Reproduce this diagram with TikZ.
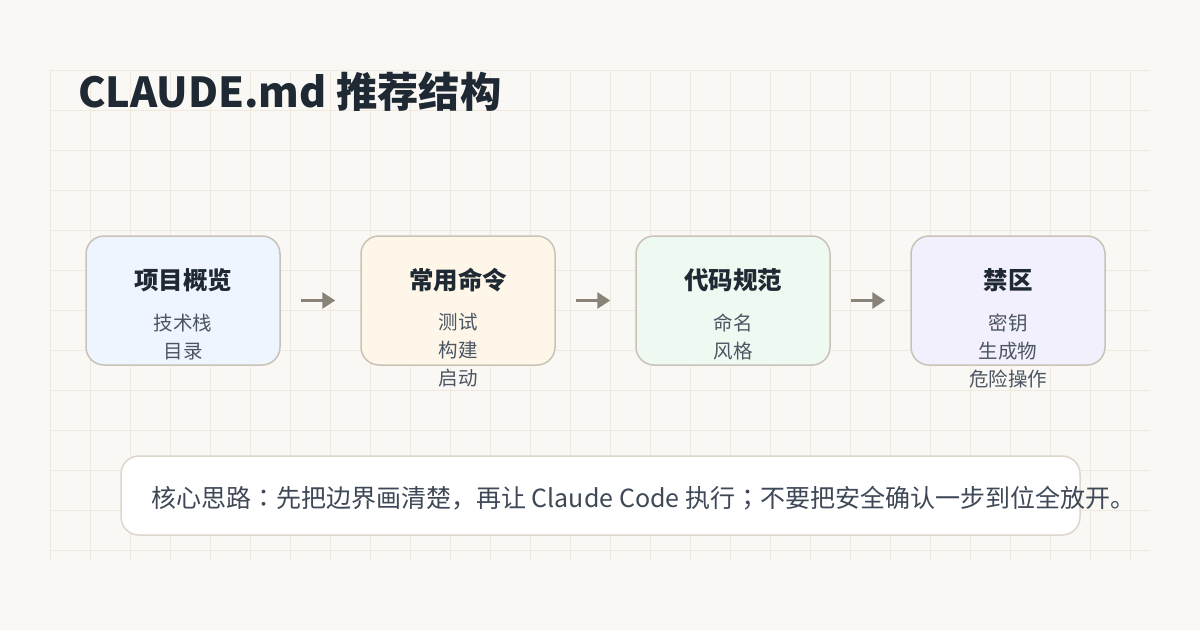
\documentclass[tikz,border=0pt]{standalone}
\usepackage{fontspec}
\setmainfont{Noto Sans CJK SC}
\newfontfamily\tcf{Noto Sans CJK TC}
\usetikzlibrary{arrows.meta}
\definecolor{bg}{HTML}{FAF8F4}
\definecolor{gridc}{HTML}{EFE9DF}
\definecolor{bordc}{HTML}{C9C2B7}
\definecolor{titlec}{HTML}{1F2933}
\definecolor{subc}{HTML}{4B5563}
\definecolor{notec}{HTML}{3E4856}
\definecolor{arrc}{HTML}{8A837A}
\definecolor{fa}{HTML}{EEF5FE}
\definecolor{fb}{HTML}{FEF7E9}
\definecolor{fc}{HTML}{EEFAF1}
\definecolor{fd}{HTML}{F3F0FD}
\definecolor{notebord}{HTML}{DDD6CA}
\tikzset{
  card/.style={draw=bordc, line width=1.5pt, rounded corners=18pt, minimum width=194pt, minimum height=129pt, inner sep=0pt},
  cardtitle/.style={font=\fontsize{24.5}{28}\selectfont\bfseries, text=titlec, inner sep=0pt},
  cardsub/.style={font=\fontsize{19.5}{28}\selectfont, text=subc, inner sep=0pt, align=center},
  flow/.style={draw=arrc, line width=3pt, -{Triangle[length=13pt,width=16pt]}, shorten <=20pt, shorten >=25pt},
}
\begin{document}
\begin{tikzpicture}[x=1pt,y=-1pt]
\fill[bg] (0,0) rectangle (1200,630);
\useasboundingbox (0,0) rectangle (1200,630);
\begin{scope}
\clip (50,70) rectangle (1150,560);
\foreach \x in {50,90,...,1130} \draw[gridc, line width=1pt] (\x,70) -- (\x,560);
\foreach \y in {70,110,...,550} \draw[gridc, line width=1pt] (50,\y) -- (1150,\y);
\end{scope}
\node[anchor=base west, inner sep=0pt, font=\fontsize{41.3}{48}\selectfont\bfseries, text=titlec] (title) at (78,107) {CLAUDE.md 推荐结构};

\node[card, fill=fa] (b1) at (183,300.5) {};
\node[card, fill=fb] (b2) at (458,300.5) {};
\node[card, fill=fc] (b3) at (733,300.5) {};
\node[card, fill=fd] (b4) at (1008,300.5) {};

\node[cardtitle] (t1) at (183,280) {项目概览};
\node[cardtitle] (t2) at (458,280) {常用命令};
\node[cardtitle] (t3) at (733,280) {代码规范};
\node[cardtitle] (t4) at (1008,280) {禁区};

\node[cardsub, anchor=north] (s1) at (183,313.5) {技术栈\\目录};
\node[cardsub, anchor=north] (s2) at (458,313.5) {测试\\构建\\启动};
\node[cardsub, anchor=north] (s3) at (733,313.5) {命名\\风格};
\node[cardsub, anchor=north] (s4) at (1008,313.5) {密钥\\生成物\\危险操作};

\draw[flow] (b1.east) -- (b2.west);
\draw[flow] (b2.east) -- (b3.west);
\draw[flow] (b3.east) -- (b4.west);

\node[draw=notebord, fill=white, line width=1.5pt, rounded corners=18pt, minimum width=959pt, minimum height=79pt, inner sep=0pt] (note) at (600.5,495.5) {};
\node[anchor=west, inner sep=0pt, font=\fontsize{25}{28}\selectfont, text=notec] (notetext) at (151,498) {核心思路{\tcf ：}先把边界画清楚，再让 Claude Code 执行{\tcf ；}不要把安全确认一步到位全放开。};
\end{tikzpicture}
\end{document}
